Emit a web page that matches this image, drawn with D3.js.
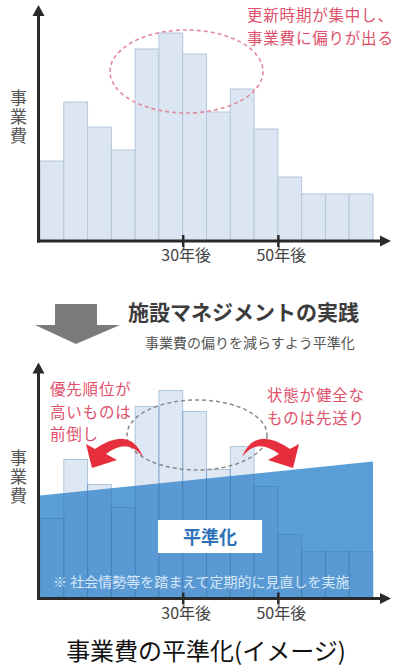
<!DOCTYPE html>
<html>
<head>
<meta charset="utf-8">
<script src="https://cdn.jsdelivr.net/npm/d3@7"></script>
<style>
  body { margin: 0; background: #fff; }
  text { font-family: "Noto Sans CJK JP", "Noto Sans", sans-serif; }
</style>
</head>
<body>
<div id="chart"></div>
<script>
// data: renewal cost per 5-year bin (arbitrary units)
const binStarts = [0, 5, 10, 15, 20, 25, 30, 35, 40, 45, 50, 55, 60, 65];
const costs = [80, 139, 114, 91, 192, 208, 187, 129, 152, 112, 64, 47, 47, 47];
const tickYears = [30, 50];
// levelled cost line (start / end of the period)
const levelYears = [0, 70];
const levelCosts = [103, 137];
const topNote = ["更新時期が集中し、", "事業費に偏りが出る"];
const leftNote = ["優先順位が", "高いものは", "前倒し"];
const rightNote = ["状態が健全な", "ものは先送り"];
const yLabel = "事業費";

const width = 402, height = 666;
const binWidth = 5;
const AXIS = "#2a2a2a", RED = "#e0506b", ARROW_RED = "#e62e3c";

let svg = d3.select("#chart").append("svg")
    .attr("width", width)
    .attr("height", height);

let x = d3.scaleLinear().domain([0, 70]).range([40, 373]);

function drawPanel(axisY, labelMid, levelled) {
    let y = d3.scaleLinear().domain([0, 236]).range([axisY, axisY - 236]);
    let g = svg.append("g");

    // bars
    g.selectAll("rect.bar").data(binStarts)
        .enter()
        .append("rect")
        .attr("class", "bar")
        .attr("x", d => x(d))
        .attr("width", x(binWidth) - x(0))
        .attr("y", (d, i) => y(costs[i]))
        .attr("height", (d, i) => y(0) - y(costs[i]))
        .attr("fill", levelled ? "rgba(90,140,200,0.2)" : "#dce6f2")
        .attr("stroke", levelled ? "rgba(60,110,170,0.35)" : "#b4c6dd")
        .attr("stroke-width", 1);

    if (levelled) {
        let area = d3.area()
            .x(d => x(d[0]))
            .y0(y(0))
            .y1(d => y(d[1]));
        g.insert("path", "rect.bar")
            .datum(d3.zip(levelYears, levelCosts))
            .attr("d", area)
            .attr("fill", "#5a9ed8");
    }

    // y axis with arrow
    g.append("line")
        .attr("x1", 38.5).attr("x2", 38.5)
        .attr("y1", axisY + 1.5).attr("y2", y(236) + 8)
        .attr("stroke", AXIS).attr("stroke-width", 3);
    g.append("path")
        .attr("d", `M38.5,${y(236)} L44.5,${y(236) + 11} L32.5,${y(236) + 11} Z`)
        .attr("fill", AXIS);

    // x axis with arrow
    g.append("line")
        .attr("x1", 37).attr("x2", 381)
        .attr("y1", axisY).attr("y2", axisY)
        .attr("stroke", AXIS).attr("stroke-width", 3);
    g.append("path")
        .attr("d", `M391,${axisY} L380,${axisY - 5.5} L380,${axisY + 5.5} Z`)
        .attr("fill", AXIS);

    // ticks 30年後 / 50年後
    let ax = g.append("g")
        .attr("transform", `translate(0, ${axisY - 6})`)
        .call(d3.axisBottom(x).tickValues(tickYears).tickSize(12).tickPadding(3)
            .tickFormat(d => d + "年後"));
    ax.select(".domain").remove();
    ax.selectAll("line").attr("stroke", AXIS).attr("stroke-width", 2.5);
    ax.selectAll("text")
        .style("font-size", "16px")
        .attr("fill", "#444")
        .attr("dx", 3);

    // y label (vertical)
    g.append("text")
        .attr("x", 18.5)
        .attr("y", labelMid)
        .attr("text-anchor", "middle")
        .style("writing-mode", "vertical-rl")
        .style("letter-spacing", "2px")
        .style("font-size", "17px")
        .attr("fill", "#555")
        .text(yLabel);

    return {g: g, y: y};
}

// multi-line red note
function note(g, lines, x0, y0, step) {
    g.selectAll(null).data(lines)
        .enter()
        .append("text")
        .attr("x", x0)
        .attr("y", (d, i) => y0 + i * step)
        .style("font-size", "15.5px")
        .style("letter-spacing", "0.8px")
        .attr("fill", RED)
        .text(d => d);
}

// ---- top chart
let upper = drawPanel(241, 118, false);
upper.g.append("ellipse")
    .attr("cx", 186.5).attr("cy", 71.5)
    .attr("rx", 76.5).attr("ry", 41.5)
    .attr("fill", "none")
    .attr("stroke", "#e38a9c")
    .attr("stroke-width", 1.6)
    .attr("stroke-dasharray", "4 3");
note(upper.g, topNote, 247, 21, 22.5);

// ---- middle: big arrow and heading
svg.append("path")
    .attr("d", "M55,304 L97,304 L97,325 L120,325 L76,344 L35,325 L55,325 Z")
    .attr("fill", "#7b7b7b");
svg.append("text")
    .attr("x", 128).attr("y", 320)
    .style("font-size", "21px")
    .style("font-weight", "bold")
    .attr("fill", "#3c3c3c")
    .text("施設マネジメントの実践");
svg.append("text")
    .attr("x", 145).attr("y", 348)
    .style("font-size", "14px")
    .attr("fill", "#555")
    .text("事業費の偏りを減らすよう平準化");

// ---- bottom chart
let lower = drawPanel(598.5, 478, true);
let bg = lower.g;

// box "平準化"
bg.append("rect")
    .attr("x", 158).attr("y", 520)
    .attr("width", 104).attr("height", 33)
    .attr("fill", "#fff");
bg.append("text")
    .attr("x", 210).attr("y", 544)
    .attr("text-anchor", "middle")
    .style("font-size", "18px")
    .style("font-weight", "bold")
    .attr("fill", "#2d72b8")
    .text("平準化");
bg.append("text")
    .attr("x", 53).attr("y", 587)
    .style("font-size", "14px")
    .attr("fill", "#d6e8f7")
    .text("※ 社会情勢等を踏まえて定期的に見直しを実施");

// dashed ellipse around the peak
bg.append("ellipse")
    .attr("cx", 197).attr("cy", 435)
    .attr("rx", 70).attr("ry", 35)
    .attr("fill", "none")
    .attr("stroke", "#8a8a8a")
    .attr("stroke-width", 1.5)
    .attr("stroke-dasharray", "4 3");

// curved red arrows (left one, right one mirrored)
const arrowPath = "M143,457 Q130,425 95,449 L86,444 L92,468 L117,460 L106,454 Q128,437 143,457 Z";
bg.append("path").attr("d", arrowPath).attr("fill", ARROW_RED);
bg.append("path").attr("d", arrowPath).attr("fill", ARROW_RED)
    .attr("transform", "translate(385,0) scale(-1,1)");

note(bg, leftNote, 50, 395, 22.5);
note(bg, rightNote, 267, 401, 22.5);

// caption
svg.append("text")
    .attr("x", 206).attr("y", 660)
    .attr("text-anchor", "middle")
    .style("font-size", "24px")
    .attr("fill", "#111")
    .text("事業費の平準化(イメージ)");
</script>
</body>
</html>
